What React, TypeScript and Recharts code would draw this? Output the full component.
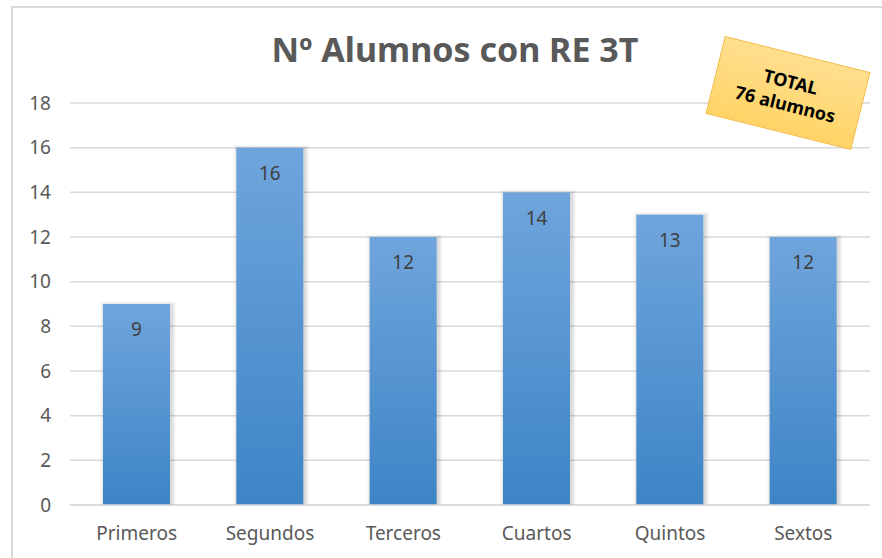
import React from "react";
import { Bar, BarChart, CartesianGrid, LabelList, XAxis, YAxis } from "recharts";

const CATEGORIES = ["Primeros", "Segundos", "Terceros", "Cuartos", "Quintos", "Sextos"];
const ALUMNOS = [9, 16, 12, 14, 13, 12];
const Y_TICKS = [0, 2, 4, 6, 8, 10, 12, 14, 16, 18];
const TITLE = "Nº Alumnos con RE 3T";
const NOTE_LINES = ["TOTAL", "76 alumnos"];

const FONT = "'Noto Sans', 'Open Sans', sans-serif";

// soft shadow made of stacked translucent rects (no svg filters)
const ShadowBar = (props: any) => {
  const { x, y, width, height } = props;
  if (!height || height <= 0) return null;
  return (
    <g>
      {[4, 3, 2, 1].map((s) => (
        <rect
          key={s}
          x={x - s + 1.5}
          y={y - s + 1.5}
          width={width + 2 * s}
          height={height + s - 1.5}
          fill="#000"
          fillOpacity={0.035}
        />
      ))}
      <rect x={x} y={y} width={width} height={height} fill="url(#barFill)" />
    </g>
  );
};

export default function App() {
  const data = CATEGORIES.map((name, i) => ({ name, value: ALUMNOS[i] }));

  return (
    <div
      style={{
        position: "absolute",
        left: 0,
        top: 0,
        width: 882,
        height: 558,
        background: "#fff",
        fontFamily: FONT,
        overflow: "hidden",
      }}
    >
      <div
        style={{
          position: "absolute",
          left: 11,
          top: 6,
          width: 880,
          height: 560,
          border: "2px solid #d9d9d9",
          boxSizing: "border-box",
        }}
      />
      <div
        style={{
          position: "absolute",
          left: 0,
          width: 910,
          top: 26,
          textAlign: "center",
          fontSize: 34,
          fontWeight: 700,
          color: "#595959",
        }}
      >
        {TITLE}
      </div>
      <div style={{ position: "absolute", left: 0, top: 0 }}>
        <BarChart
          width={882}
          height={558}
          data={data}
          margin={{ top: 103, right: 12, bottom: 23, left: 0 }}
          barSize={67}
        >
          <defs>
            <linearGradient id="barFill" x1="0" y1="0" x2="0" y2="1">
              <stop offset="0%" stopColor="#6fa5dc" />
              <stop offset="100%" stopColor="#3d84c6" />
            </linearGradient>
          </defs>
          <CartesianGrid vertical={false} stroke="#d9d9d9" strokeWidth={1.5} />
          <XAxis
            dataKey="name"
            axisLine={{ stroke: "#d9d9d9", strokeWidth: 1.5 }}
            tickLine={false}
            tickMargin={16}
            tick={{ fill: "#595959", fontSize: 19, fontFamily: FONT }}
          />
          <YAxis
            width={70}
            domain={[0, 18]}
            ticks={Y_TICKS}
            axisLine={false}
            tickLine={false}
            tickSize={0}
            tickMargin={19}
            tick={{ fill: "#595959", fontSize: 19, fontFamily: FONT }}
          />
          <Bar
            dataKey="value"
            fill="#5a96d4"
            shape={ShadowBar}
            isAnimationActive={false}
          >
            <LabelList
              dataKey="value"
              position="insideTop"
              offset={19}
              fill="#404040"
              fontSize={19}
              fontFamily={FONT}
            />
          </Bar>
        </BarChart>
      </div>
      <div
        style={{
          position: "absolute",
          left: 713,
          top: 53,
          width: 150,
          height: 80,
          boxSizing: "border-box",
          transform: "rotate(14deg)",
          background: "linear-gradient(180deg, #ffdf8f 0%, #ffd466 100%)",
          border: "1.5px solid #f2b632",
          display: "flex",
          flexDirection: "column",
          alignItems: "center",
          justifyContent: "center",
          fontWeight: 700,
          fontSize: 18,
          lineHeight: "23px",
          color: "#000",
        }}
      >
        {NOTE_LINES.map((l) => (
          <div key={l}>{l}</div>
        ))}
      </div>
    </div>
  );
}
